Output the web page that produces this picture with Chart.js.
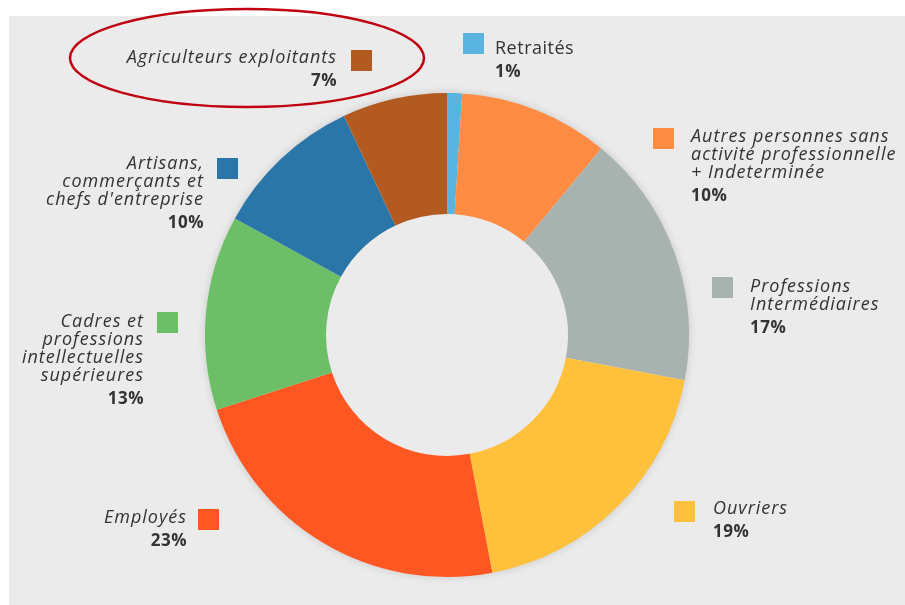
<!DOCTYPE html>
<html>
<head>
<meta charset="utf-8">
<script src="https://cdn.jsdelivr.net/npm/chart.js@4/dist/chart.umd.min.js"></script>
<style>
  html, body { margin: 0; padding: 0; background: #fff; }
  canvas { display: block; }
</style>
</head>
<body>
<canvas id="chart" width="905" height="605"></canvas>
<script>
// categories, clockwise from 12 o'clock
const categories = [
  ['Retraités'],
  ['Autres personnes sans', 'activité professionnelle', '+ Indeterminée'],
  ['Professions', 'Intermédiaires'],
  ['Ouvriers'],
  ['Employés'],
  ['Cadres et', 'professions', 'intellectuelles', 'supérieures'],
  ['Artisans,', 'commerçants et', "chefs d'entreprise"],
  ['Agriculteurs exploitants']
];
const shares = [1, 10, 17, 19, 23, 13, 10, 7];
const colors = ['#5ab4e0', '#ff8c42', '#a8b3b0', '#ffc03b', '#ff5722', '#6dbf67', '#2b76a8', '#b35a21'];

// where each label sits (square + text anchor)
const labelLayout = [
  { sq: [463, 33], x: 495, y: 54, align: 'left', upright: true },
  { sq: [653, 128], x: 691, y: 142, align: 'left' },
  { sq: [712, 277], x: 750, y: 292, align: 'left' },
  { sq: [674, 501], x: 713, y: 514, align: 'left' },
  { sq: [198, 509], x: 187, y: 523, align: 'right' },
  { sq: [157, 312], x: 144, y: 327, align: 'right' },
  { sq: [217, 158], x: 204, y: 169, align: 'right' },
  { sq: [351, 50], x: 337, y: 63, align: 'right' }
];

const panelPlugin = {
  id: 'panel',
  beforeDraw(chart) {
    const ctx = chart.ctx;
    ctx.save();
    ctx.fillStyle = '#ffffff';
    ctx.fillRect(0, 0, chart.width, chart.height);
    ctx.fillStyle = '#ebebeb';
    ctx.fillRect(9, 16, chart.width - 9, chart.height - 16);
    ctx.restore();
  },
  beforeDatasetsDraw(chart) {
    // soft shadow under the ring
    const arc = chart.getDatasetMeta(0).data[0];
    const ctx = chart.ctx;
    ctx.save();
    ctx.shadowColor = 'rgba(0,0,0,0.18)';
    ctx.shadowBlur = 10;
    ctx.fillStyle = '#ebebeb';
    ctx.beginPath();
    ctx.arc(arc.x, arc.y, arc.outerRadius - 1, 0, Math.PI * 2);
    ctx.fill();
    ctx.restore();
  }
};

const labelPlugin = {
  id: 'sliceLabels',
  afterDatasetsDraw(chart) {
    const ctx = chart.ctx;
    const ds = chart.data.datasets[0];
    ctx.save();
    chart.data.labels.forEach((lines, i) => {
      const l = labelLayout[i];
      ctx.fillStyle = ds.backgroundColor[i];
      ctx.fillRect(l.sq[0], l.sq[1], 21, 21);
      ctx.fillStyle = '#333333';
      ctx.textAlign = l.align;
      ctx.textBaseline = 'alphabetic';
      if (l.upright) {
        ctx.font = '18px "Open Sans"';
        ctx.letterSpacing = '0.5px';
      } else {
        ctx.font = 'italic 18px "Open Sans"';
        ctx.letterSpacing = '1px';
      }
      let y = l.y;
      lines.forEach((t, k) => {
        if (k > 0) y += 18;
        ctx.fillText(t, l.x, y);
      });
      ctx.font = 'bold 17px "Open Sans"';
      ctx.letterSpacing = '0.5px';
      ctx.fillText(ds.data[i] + '%', l.x, y + 23);
    });
    ctx.letterSpacing = '0px';
    // red ellipse highlighting the agriculture label
    ctx.strokeStyle = '#c00010';
    ctx.lineWidth = 2.5;
    ctx.beginPath();
    ctx.ellipse(247, 58, 177, 49, 0, 0, Math.PI * 2);
    ctx.stroke();
    ctx.restore();
  }
};

new Chart(document.getElementById('chart'), {
  type: 'doughnut',
  data: {
    labels: categories,
    datasets: [{
      data: shares,
      backgroundColor: colors,
      borderWidth: 0
    }]
  },
  options: {
    responsive: false,
    animation: false,
    cutout: '50%',
    layout: { padding: { left: 205, right: 216, top: 93, bottom: 28 } },
    plugins: {
      legend: { display: false },
      tooltip: { enabled: false }
    }
  },
  plugins: [panelPlugin, labelPlugin]
});
</script>
</body>
</html>
